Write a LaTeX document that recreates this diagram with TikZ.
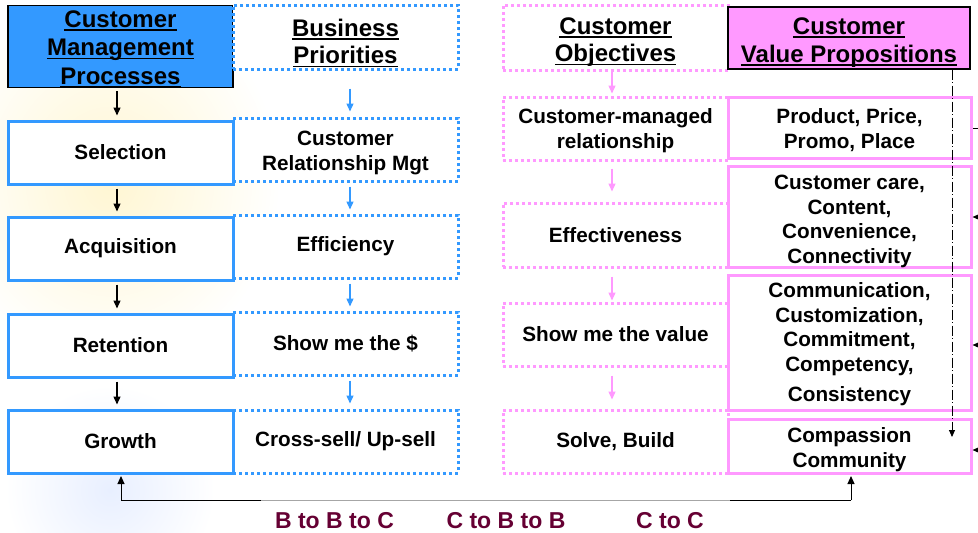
\documentclass[tikz,border=0pt]{standalone}
\usepackage{fontspec}
\setmainfont{Liberation Sans}
\usetikzlibrary{arrows.meta}
\definecolor{cblue}{HTML}{3399FF}
\definecolor{cpink}{HTML}{FF99FF}
\definecolor{cmaroon}{HTML}{660033}
\definecolor{bgyel}{HTML}{FFF6D2}
\definecolor{bgblue}{HTML}{E8EFFF}
\newcommand\ulx[1]{\setbox0\hbox{#1}\rlap{\rule[-3.6pt]{\wd0}{1.7pt}}\box0}
\newcommand\sr[1]{\rule{0pt}{#1pt}}
\newcommand\bx[7]{\node[#2, minimum width={(#5-#3)*1pt}, minimum height={(#6-#4)*1pt}] (#1) at ({(#3+#5)/2},{(#4+#6)/2}) {#7};}
\tikzset{
  base/.style={inner sep=0pt, align=center, fill=white, font=\fontsize{20.7}{24.5}\selectfont\bfseries},
  hdr/.style={base, font=\fontsize{24}{27.5}\selectfont\bfseries},
  sblue/.style={base, draw=cblue, line width=3pt},
  dblue/.style={base, draw=cblue, line width=3pt, dash pattern=on 3pt off 3pt},
  spink/.style={base, draw=cpink, line width=3pt},
  dpink/.style={base, draw=cpink, line width=3pt, dash pattern=on 3pt off 3pt},
  hblue/.style={hdr, fill=cblue, draw=black, line width=1.2pt, font=\fontsize{24}{28.5}\selectfont\bfseries},
  hpink/.style={hdr, fill=cpink, draw=black, line width=1.2pt},
  hdblue/.style={hdr, draw=cblue, line width=3pt, dash pattern=on 3pt off 3pt},
  hdpink/.style={hdr, draw=cpink, line width=3pt, dash pattern=on 3pt off 3pt},
  karrow/.style={draw=black, line width=1.3pt, -{Triangle[length=8pt,width=7pt]}},
  barrow/.style={draw=cblue, line width=1.3pt, -{Triangle[length=8pt,width=7pt]}},
  parrow/.style={draw=cpink, line width=1.3pt, -{Triangle[length=8pt,width=7pt]}},
  rarrow/.style={draw=black, line width=1pt, -{Triangle[length=6pt,width=5pt]}},
  lbl/.style={inner sep=0pt, text=cmaroon, font=\fontsize{23}{26}\selectfont\bfseries}
}
\begin{document}
\begin{tikzpicture}[x=1pt, y=-1pt]
\useasboundingbox (0,0) rectangle (978,533);
\fill[white] (0,0) rectangle (978,533);
% faint background decoration
\shade[inner color=bgyel, outer color=white] (110,180) ellipse (170 and 190);
\shade[inner color=bgblue, outer color=white] (110,490) circle (105);
% left block
\bx{cmp}{hblue}{8}{6}{233}{87}{\sr{22}\ulx{Customer}\\\ulx{Management}\\\ulx{Processes}}
\bx{bp}{hdblue}{233}{5}{458}{69}{\sr{29.5}\ulx{Business}\\\ulx{Priorities}}
\bx{crm}{dblue}{233}{118}{458}{181}{\sr{21}Customer\\Relationship Mgt}
\bx{eff}{dblue}{233}{215}{458}{278}{Efficiency}
\bx{smd}{dblue}{233}{312}{458}{375}{Show me the \$}
\bx{xs}{dblue}{233}{410}{458}{473}{Cross-sell/ Up-sell}
\bx{sel}{sblue}{8}{121}{233}{184}{Selection}
\bx{acq}{sblue}{8}{217}{233}{280}{Acquisition}
\bx{ret}{sblue}{8}{314}{233}{377}{Retention}
\bx{gro}{sblue}{8}{410}{233}{473}{Growth}
% right block
\bx{co}{hdpink}{503}{5}{728}{70}{\sr{26}\ulx{Customer}\\\ulx{Objectives}}
\bx{cmr}{dpink}{503}{97}{728}{160}{\sr{19.5}Customer-managed\\relationship}
\bx{eff2}{dpink}{503}{203}{728}{267}{Effectiveness}
\bx{smv}{dpink}{503}{303}{728}{366}{Show me the value}
\bx{sb}{dpink}{503}{410}{728}{473}{Solve, Build}
\bx{cvp}{hpink}{728}{7}{970}{69}{\sr{25.5}\ulx{Customer}\\\ulx{Value Propositions}}
\bx{ppp}{spink}{728}{97}{971}{158}{\sr{20}Product, Price,\\Promo, Place}
\bx{cc}{spink}{728}{167}{971}{267}{\sr{23}Customer care,\\Content,\\Convenience,\\Connectivity}
\bx{com}{spink}{728}{275}{971}{410}{\sr{19}Communication,\\Customization,\\Commitment,\\Competency,\\[6pt]Consistency}
\bx{cps}{spink}{728}{419}{971}{473}{\sr{22}Compassion\\Community}
% black arrows (left column)
\draw[karrow] ([xshift=-3.5pt,yshift=-3pt]cmp.south) -- ([xshift=-3.5pt,yshift=4pt]sel.north);
\draw[karrow] ([xshift=-3.5pt,yshift=-3pt]sel.south) -- ([xshift=-3.5pt,yshift=4pt]acq.north);
\draw[karrow] ([xshift=-3.5pt,yshift=-3pt]acq.south) -- ([xshift=-3.5pt,yshift=4pt]ret.north);
\draw[karrow] ([xshift=-3.5pt,yshift=-3pt]ret.south) -- ([xshift=-3.5pt,yshift=4pt]gro.north);
% blue arrows
\draw[barrow] ([xshift=4.5pt,yshift=-18pt]bp.south) -- ([xshift=4.5pt,yshift=5pt]crm.north);
\draw[barrow] ([xshift=4.5pt,yshift=-4pt]crm.south) -- ([xshift=4.5pt,yshift=4pt]eff.north);
\draw[barrow] ([xshift=4.5pt,yshift=-4pt]eff.south) -- ([xshift=4.5pt,yshift=4pt]smd.north);
\draw[barrow] ([xshift=4.5pt,yshift=-4pt]smd.south) -- ([xshift=4.5pt,yshift=5pt]xs.north);
% pink arrows
\draw[parrow] ([xshift=-3.5pt]co.south) -- ([xshift=-3.5pt,yshift=2pt]cmr.north);
\draw[parrow] ([xshift=-3.5pt,yshift=-7pt]cmr.south) -- ([xshift=-3.5pt,yshift=10pt]eff2.north);
\draw[parrow] ([xshift=-3.5pt,yshift=-8pt]eff2.south) -- ([xshift=-3.5pt,yshift=1pt]smv.north);
\draw[parrow] ([xshift=-3.5pt,yshift=-8pt]smv.south) -- ([xshift=-3.5pt,yshift=9pt]sb.north);
% dash-dot line on the right
\coordinate (ddend) at (952,437);
\draw[line width=0.9pt, dash pattern=on 10pt off 2.5pt on 1pt off 2.5pt, -{Triangle[length=7pt,width=6pt]}] (cvp.south -| ddend) -- (ddend);
% arrows from right edge
\coordinate (r1) at (978,128);
\coordinate (r2) at (978,217);
\coordinate (r3) at (978,345);
\coordinate (r4) at (978,450);
\draw[line width=1pt] (r1) -- (r1 -| ppp.east);
\draw[rarrow] (r2) -- (r2 -| cc.east);
\draw[rarrow] (r3) -- (r3 -| com.east);
\draw[rarrow] (r4) -- (r4 -| cps.east);
% bottom connector
\coordinate (bl) at (121,500);
\coordinate (g1) at (261,500);
\coordinate (g2) at (730,500);
\coordinate (br) at (851,500);
\draw[karrow, line width=1pt, shorten >=1.5pt] (bl) -- (bl |- gro.south);
\draw[karrow, line width=1pt, shorten >=1.5pt] (br) -- (br |- cps.south);
\draw[line width=1pt] (bl) -- (g1);
\draw[line width=1pt, gray!70] (g1) -- (g2);
\draw[line width=1pt] (g2) -- (br);
% labels
\node[lbl] (l1) at (334.5,521) {B to B to C};
\node[lbl] (l2) at (506,521) {C to B to B};
\node[lbl] (l3) at (670,521) {C to C};
\end{tikzpicture}
\end{document}
